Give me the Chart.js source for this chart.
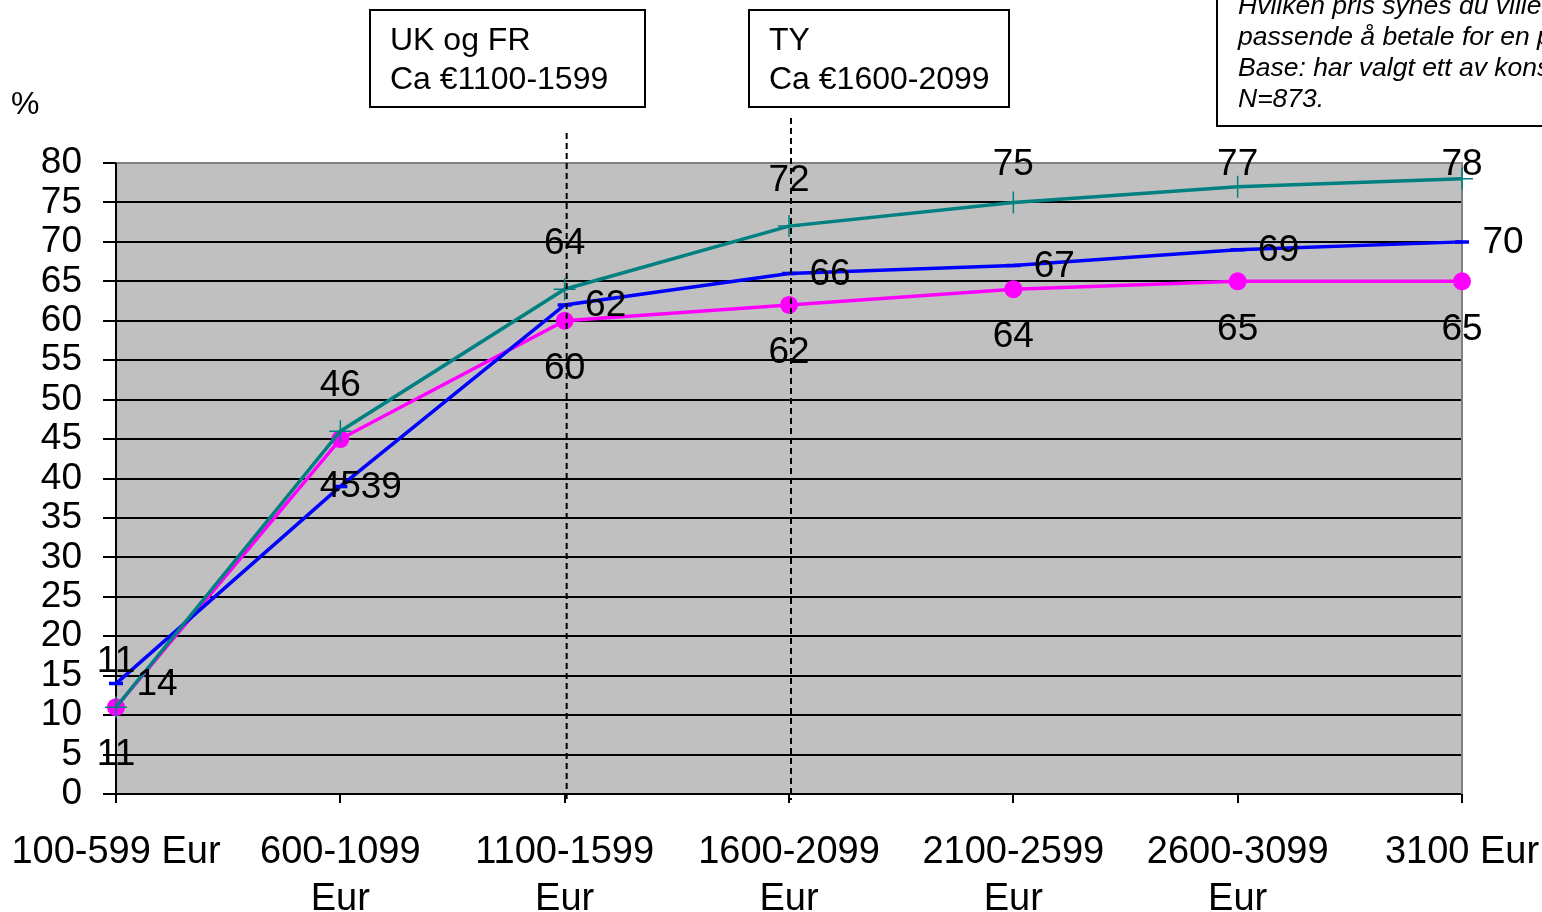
<!DOCTYPE html>
<html>
<head>
<meta charset="utf-8">
<script src="https://cdn.jsdelivr.net/npm/chart.js@4/dist/chart.umd.min.js"></script>
<style>
  html, body { margin: 0; padding: 0; background: #fff; }
  #wrap { width: 1542px; height: 912px; position: relative; }
</style>
</head>
<body>
<div id="wrap"><canvas id="c" width="1542" height="912"></canvas></div>
<script>
// Price bands (x axis)
const categories = [
  '100-599 Eur',
  ['600-1099', 'Eur'],
  ['1100-1599', 'Eur'],
  ['1600-2099', 'Eur'],
  ['2100-2599', 'Eur'],
  ['2600-3099', 'Eur'],
  '3100 Eur'
];

// Cumulative share (%) per price band
const tealValues    = [11, 46, 64, 72, 75, 77, 78];
const blueValues    = [14, 39, 62, 66, 67, 69, 70];
const magentaValues = [11, 45, 60, 62, 64, 65, 65];

// Y axis range
const yMin = 0, yMax = 80, yStep = 5;

// Market price-range callouts (category index they point at)
const markets = [
  { index: 2, lines: ['UK og FR', 'Ca €1100-1599'] },
  { index: 3, lines: ['TY', 'Ca €1600-2099'] }
];

const noteLines = [
  'Hvilken pris synes du ville vært',
  'passende å betale for en pakke?',
  'Base: har valgt ett av konseptene.',
  'N=873.'
];

const FONT = '"Liberation Sans", Arial, sans-serif';

const plotBackground = {
  id: 'plotBackground',
  beforeDraw(chart) {
    const { ctx, chartArea: a } = chart;
    ctx.save();
    ctx.fillStyle = '#c0c0c0';
    ctx.fillRect(a.left, a.top, a.right - a.left, a.bottom - a.top);
    ctx.restore();
  },
  beforeDatasetsDraw(chart) {
    const { ctx, chartArea: a } = chart;
    ctx.save();
    ctx.strokeStyle = '#808080';
    ctx.lineWidth = 2;
    ctx.beginPath();
    ctx.moveTo(a.left, a.top);
    ctx.lineTo(a.right, a.top);
    ctx.lineTo(a.right, a.bottom);
    ctx.stroke();
    // y axis line
    ctx.strokeStyle = '#000';
    ctx.beginPath();
    ctx.moveTo(a.left, a.top);
    ctx.lineTo(a.left, a.bottom + 9);
    ctx.stroke();
    ctx.restore();
  }
};

const annotations = {
  id: 'annotations',
  afterDraw(chart) {
    const { ctx, chartArea: a } = chart;
    const xs = chart.scales.x;
    ctx.save();
    // dashed guides and callout boxes
    const boxes = [
      { left: 370, right: 645, lineTop: 133 },
      { left: 749, right: 1009, lineTop: 118 }
    ];
    markets.forEach((m, i) => {
      const px = xs.getPixelForValue(m.index) + 2;
      const b = boxes[i];
      ctx.strokeStyle = '#000';
      ctx.lineWidth = 2;
      ctx.setLineDash([6, 4]);
      ctx.beginPath();
      ctx.moveTo(px, b.lineTop);
      ctx.lineTo(px, a.bottom + 6);
      ctx.stroke();
      ctx.setLineDash([]);
      ctx.fillStyle = '#fff';
      ctx.fillRect(b.left, 10, b.right - b.left, 97);
      ctx.strokeRect(b.left, 10, b.right - b.left, 97);
      ctx.fillStyle = '#000';
      ctx.font = '32px ' + FONT;
      ctx.textAlign = 'left';
      ctx.textBaseline = 'middle';
      m.lines.forEach((t, k) => ctx.fillText(t, b.left + 20, 41 + k * 39));
    });
    // note box at top right
    ctx.fillStyle = '#fff';
    ctx.fillRect(1217, -5, 340, 131);
    ctx.lineWidth = 2;
    ctx.strokeRect(1217, -5, 340, 131);
    ctx.fillStyle = '#000';
    ctx.font = 'italic 26.5px ' + FONT;
    ctx.textAlign = 'left';
    ctx.textBaseline = 'middle';
    noteLines.forEach((t, k) => ctx.fillText(t, 1238, 7 + k * 31));
    // % unit label
    ctx.font = '32px ' + FONT;
    ctx.fillText('%', 11, 105);
    ctx.restore();
  }
};

const valueLabels = {
  id: 'valueLabels',
  afterDatasetsDraw(chart) {
    const { ctx, chartArea: a } = chart;
    ctx.save();
    ctx.font = '37px ' + FONT;
    ctx.fillStyle = '#000';
    ctx.textAlign = 'center';
    ctx.textBaseline = 'middle';
    chart.data.datasets.forEach((ds, di) => {
      const meta = chart.getDatasetMeta(di);
      meta.data.forEach((pt, i) => {
        let x = pt.x, y = pt.y;
        if (ds.labelPos === 'above') y = Math.max(y - 46, a.top + 1);
        else if (ds.labelPos === 'below') y = y + 47;
        else x = x + 41;
        ctx.fillText(String(ds.data[i]), x, y + 1);
      });
    });
    ctx.restore();
  }
};

new Chart(document.getElementById('c'), {
  type: 'line',
  data: {
    labels: categories,
    datasets: [
      {
        data: tealValues, labelPos: 'above', order: 0,
        borderColor: '#008080', backgroundColor: '#008080', borderWidth: 3.5,
        pointStyle: 'cross', pointRadius: 11, pointBorderWidth: 1.5,
        pointBorderColor: '#008080', tension: 0
      },
      {
        data: blueValues, labelPos: 'right', order: 1,
        borderColor: '#0000ff', backgroundColor: '#0000ff', borderWidth: 3.5,
        pointStyle: 'line', pointRadius: 7, pointBorderWidth: 3.5,
        pointBorderColor: '#0000ff', tension: 0
      },
      {
        data: magentaValues, labelPos: 'below', order: 2,
        borderColor: '#ff00ff', backgroundColor: '#ff00ff', borderWidth: 3.5,
        pointStyle: 'circle', pointRadius: 9, pointBorderWidth: 0,
        pointBorderColor: '#ff00ff', tension: 0
      }
    ]
  },
  options: {
    responsive: false,
    animation: false,
    events: [],
    layout: { padding: { top: 163, right: 80, left: 0, bottom: 0 } },
    plugins: { legend: { display: false }, tooltip: { enabled: false } },
    scales: {
      x: {
        type: 'category',
        offset: false,
        afterFit(s) { s.height = 118; s.paddingLeft = 0; s.paddingRight = 0; },
        grid: { drawOnChartArea: false, drawTicks: true, tickLength: 9, color: '#000', lineWidth: 2 },
        border: { display: true, color: '#000', width: 2 },
        ticks: {
          autoSkip: false, maxRotation: 0, minRotation: 0, padding: 26,
          color: '#000', font: { family: FONT, size: 38, lineHeight: 1.237 }
        }
      },
      y: {
        min: yMin, max: yMax,
        afterFit(s) { s.width = 116; s.paddingTop = 0; s.paddingBottom = 0; },
        grid: { color: '#000', lineWidth: 2, tickLength: 13, drawTicks: true },
        border: { display: true, color: '#000', width: 2 },
        ticks: {
          stepSize: yStep, autoSkip: false, padding: 21, color: '#000',
          font: { family: FONT, size: 37 }
        }
      }
    }
  },
  plugins: [plotBackground, valueLabels, annotations]
});
</script>
</body>
</html>
